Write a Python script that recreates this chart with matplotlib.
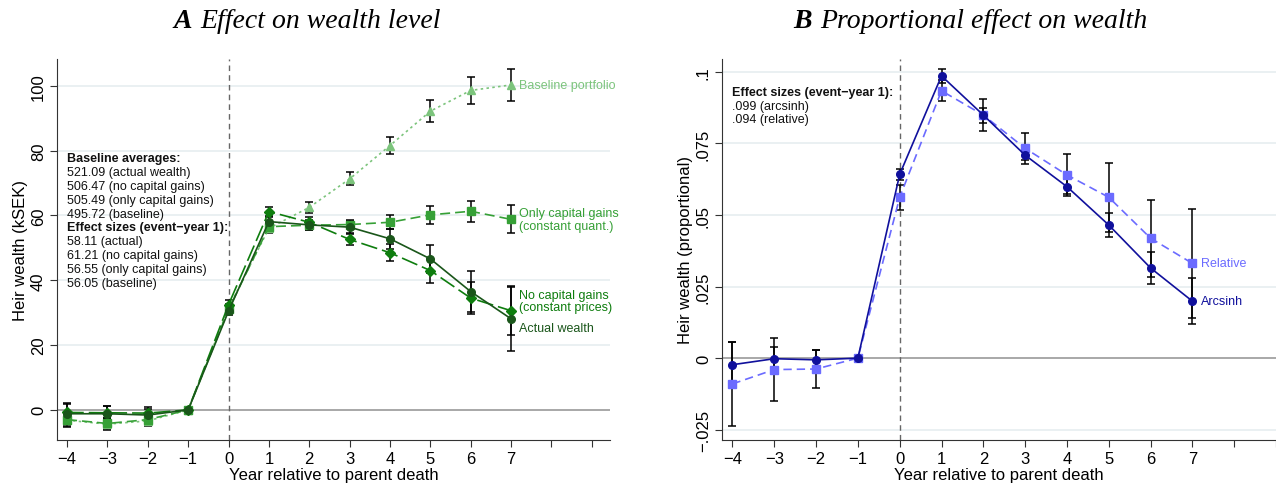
import numpy as np
import matplotlib
matplotlib.use("Agg")
import matplotlib.pyplot as plt

plt.rcParams['font.family'] = ['Liberation Sans', 'DejaVu Sans']

years = [-4, -3, -2, -1, 0, 1, 2, 3, 4, 5, 6, 7]

# panel A: wealth level (kSEK)
actual = [-1.2, -1.2, -1.6, 0, 30.5, 58.11, 57.1, 56.4, 52.8, 46.6, 36.5, 28.1]
actual_err = [3.2, 2.5, 2.0, 0, 1.3, 1.5, 1.6, 1.8, 3.0, 4.3, 6.3, 9.8]
nocap = [-0.8, -0.9, -1.0, 0, 32.5, 61.21, 57.9, 52.6, 48.5, 43.0, 34.5, 30.6]
nocap_err = [2.5, 2.0, 1.8, 0, 1.3, 1.5, 1.5, 1.6, 2.6, 3.7, 5.0, 7.5]
onlycap = [-3.0, -4.2, -3.0, 0, 31.0, 56.55, 57.0, 57.2, 57.9, 60.2, 61.3, 58.8]
onlycap_err = [2.0, 1.8, 1.6, 0, 1.2, 1.3, 1.4, 1.5, 2.2, 2.7, 3.2, 4.3]
baseline = [-3.2, -4.4, -3.4, 0, 31.5, 56.05, 62.5, 71.3, 81.6, 92.2, 98.6, 100.3]
baseline_err = [2.0, 1.8, 1.6, 0, 1.2, 1.4, 1.8, 2.0, 2.6, 3.3, 4.1, 5.0]

# panel B: proportional effect
arcsinh = [-0.0023, -0.0002, -0.0006, 0, 0.0642, 0.0986, 0.0849, 0.0709, 0.0599, 0.0465, 0.0315, 0.0199]
arcsinh_err = [0.0079, 0.0040, 0.0035, 0, 0.0020, 0.0025, 0.0026, 0.0017, 0.0026, 0.0043, 0.0055, 0.0080]
relative = [-0.0090, -0.0040, -0.0038, 0, 0.0562, 0.0934, 0.0849, 0.0733, 0.0640, 0.0562, 0.0419, 0.0331]
relative_err = [0.0148, 0.0110, 0.0068, 0, 0.0043, 0.0037, 0.0055, 0.0055, 0.0073, 0.0120, 0.0135, 0.0190]

ann_A = ['Baseline averages:', '521.09 (actual wealth)', '506.47 (no capital gains)',
         '505.49 (only capital gains)', '495.72 (baseline)',
         'Effect sizes (event\u2212year 1):', '58.11 (actual)', '61.21 (no capital gains)',
         '56.55 (only capital gains)', '56.05 (baseline)']
ann_B = ['Effect sizes (event\u2212year 1):', '.099 (arcsinh)', '.094 (relative)']

xticks = list(range(-4, 10))
xlabels = [str(t).replace('-', '\u2212') if t <= 7 else '' for t in xticks]

c_base = '#7cc47c'
c_only = '#36a036'
c_nocap = '#0e7d0e'
c_actual = '#1a561a'
c_rel = '#6b6bff'
c_arc = '#10109c'
grid_c = '#e6eef0'

fig = plt.figure(figsize=(12.76, 4.85), dpi=100)
axA = fig.add_axes([57 / 1276, 44 / 485, 553 / 1276, 381 / 485])
axB = fig.add_axes([722 / 1276, 44 / 485, 554 / 1276, 381 / 485])


def style(ax, xmax, ylim, yticks, ylabels):
    ax.set_xlim(-4.25, xmax)
    ax.set_ylim(*ylim)
    ax.set_xticks(xticks)
    ax.set_xticklabels(xlabels, fontsize=12)
    ax.set_yticks(yticks)
    ax.set_yticklabels(ylabels, fontsize=12, rotation=90, va='center')
    for s in ['top', 'right']:
        ax.spines[s].set_visible(False)
    for s in ['left', 'bottom']:
        ax.spines[s].set_color('#333333')
    ax.tick_params(direction='out', length=5, color='#333333', pad=3)
    for t in yticks:
        if t != 0:
            ax.axhline(t, color=grid_c, lw=1.2, zorder=0)
    ax.axhline(0, color='#9a9a9a', lw=1.2, zorder=1)
    ax.axvline(0, color='#666666', lw=1, ls=(0, (4, 3)), zorder=1)
    ax.set_xlabel('Year relative to parent death', fontsize=12, labelpad=1)


def series(ax, y, e, color, ls, marker, ms, lw=1.2):
    ax.errorbar(years, y, yerr=e, fmt='none', ecolor='black', elinewidth=1.1,
                capsize=3, capthick=1.1, zorder=2)
    ax.plot(years, y, color=color, ls=ls, lw=lw, marker=marker, ms=ms,
            mec=color, mfc=color, zorder=3)


# panel A
style(axA, 9.45, (-9.3, 108.3), [0, 20, 40, 60, 80, 100],
      ['0', '20', '40', '60', '80', '100'])
series(axA, baseline, baseline_err, c_base, (0, (1.5, 2)), '^', 5.5)
series(axA, onlycap, onlycap_err, c_only, (0, (6, 3)), 's', 5.5)
series(axA, nocap, nocap_err, c_nocap, (0, (10, 3)), 'D', 5)
series(axA, actual, actual_err, c_actual, '-', 'o', 5.5)
axA.set_ylabel('Heir wealth (kSEK)', fontsize=12, labelpad=2)

lab = dict(fontsize=9, va='center', ha='left')
axA.text(7.2, baseline[-1], 'Baseline portfolio', color=c_base, **lab)
axA.text(7.2, 60.8, 'Only capital gains', color=c_only, **lab)
axA.text(7.2, 56.9, '(constant quant.)', color=c_only, **lab)
axA.text(7.2, 35.6, 'No capital gains', color=c_nocap, **lab)
axA.text(7.2, 31.7, '(constant prices)', color=c_nocap, **lab)
axA.text(7.2, 25.2, 'Actual wealth', color=c_actual, **lab)

for i, s in enumerate(ann_A):
    axA.text(-4.0, 79.6 - i * 4.29, s, fontsize=9, va='top', ha='left',
             fontweight='bold' if s.endswith(':') else 'normal', color='#111111')

# panel B
style(axB, 8.7, (-0.0286, 0.1045), [-0.025, 0, 0.025, 0.05, 0.075, 0.1],
      ['\u2212.025', '0', '.025', '.05', '.075', '.1'])
series(axB, relative, relative_err, c_rel, (0, (5, 3)), 's', 5.5)
series(axB, arcsinh, arcsinh_err, c_arc, '-', 'o', 5.5)
axB.set_ylabel('Heir wealth (proportional)', fontsize=12, labelpad=2)
axB.text(7.2, relative[-1], 'Relative', color=c_rel, **lab)
axB.text(7.2, arcsinh[-1], 'Arcsinh', color=c_arc, **lab)

for i, s in enumerate(ann_B):
    axB.text(-4.0, 0.0949 - i * 0.0046, s, fontsize=9, va='top', ha='left',
             fontweight='bold' if i == 0 else 'normal', color='#111111')

# titles
ty = 1 - 22 / 485
tit = dict(fontsize=20, va='center', ha='left', family='Liberation Serif', style='italic')
fig.text(173 / 1276, ty, 'A', weight='bold', **tit)
fig.text(200 / 1276, ty, 'Effect on wealth level', **tit)
fig.text(793 / 1276, ty, 'B', weight='bold', **tit)
fig.text(820 / 1276, ty, 'Proportional effect on wealth', **tit)

fig.savefig('out.png', dpi=100)
